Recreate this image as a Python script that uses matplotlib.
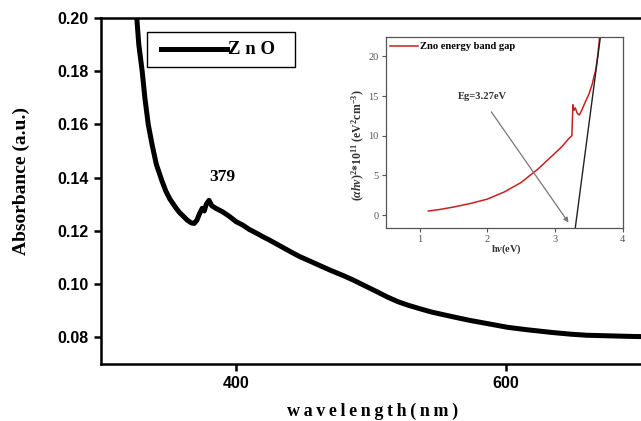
"""
plot.py
UV-Vis absorbance of ZnO with a Tauc-plot inset (band gap).
"""
import matplotlib
matplotlib.use("Agg")
import matplotlib.pyplot as plt
from matplotlib.patches import Rectangle
from matplotlib.lines import Line2D

plt.rcParams["mathtext.fontset"] = "custom"
plt.rcParams["mathtext.rm"] = "Liberation Serif:bold"
plt.rcParams["mathtext.it"] = "Liberation Serif:italic:bold"
plt.rcParams["mathtext.bf"] = "Liberation Serif:bold"

SERIF = "Liberation Serif"
SANS = "Liberation Sans"
TS = "\u2009"   # thin space, used as letter spacing

# -- Main spectrum ------------------------------------------------------------
wavelength = [324, 326.5, 328, 330.5, 332.5, 335, 338, 341, 345, 348, 351, 355,
              358, 361, 364, 367, 369, 371, 373, 375, 376.5, 378, 380, 382,
              385, 390, 395, 400, 405, 410, 415, 420, 425, 430, 435, 440, 447,
              455, 462, 470, 480, 487, 495, 505, 512, 520, 528, 536, 545, 553,
              561, 573, 586, 601, 615, 635, 648, 660, 675, 690, 700]
absorbance = [0.215, 0.200, 0.190, 0.180, 0.170, 0.160, 0.152, 0.145, 0.139,
              0.135, 0.132, 0.129, 0.127, 0.1255, 0.124, 0.123, 0.1228, 0.124,
              0.1265, 0.1285, 0.1275, 0.130, 0.1315, 0.1295, 0.1285, 0.1272,
              0.1255, 0.1235, 0.1222, 0.1205, 0.1192, 0.1178, 0.1165, 0.1151,
              0.1137, 0.1123, 0.1104, 0.1086, 0.1070, 0.1052, 0.1031, 0.1015,
              0.0995, 0.0970, 0.0952, 0.0934, 0.0920, 0.0908, 0.0895, 0.0886,
              0.0877, 0.0864, 0.0852, 0.0838, 0.0829, 0.0818, 0.0812, 0.0808,
              0.0806, 0.0804, 0.0803]
peak_nm, peak_label_y = 389.6, 0.1404

# -- Inset: Tauc plot ----------------------------------------------------------
hv = [1.13, 1.3, 1.5, 1.75, 2.0, 2.25, 2.5, 2.75, 3.0, 3.1, 3.2, 3.25, 3.255,
      3.265, 3.28, 3.30, 3.33, 3.36, 3.40, 3.45, 3.50, 3.55, 3.58, 3.60, 3.63,
      3.66]
tauc = [0.5, 0.7, 1.0, 1.45, 2.0, 2.9, 4.1, 5.8, 7.8, 8.6, 9.6, 10.0, 11.5,
        13.9, 13.2, 13.5, 12.8, 12.6, 13.3, 14.3, 15.2, 16.5, 17.6, 18.2, 20.0,
        22.5]
fit_x = [3.30, 3.67]
fit_y = [-1.6, 22.4]
arrow_tail = (2.06, 13.0)
arrow_head = (3.20, -0.95)

W, H = 641, 421
fig = plt.figure(figsize=(W / 100, H / 100), dpi=100, facecolor="white")

# -- Main axes -----------------------------------------------------------------
ax = fig.add_axes([101 / W, 57 / H, 540 / W, 346 / H])
ax.plot(wavelength, absorbance, color="black", linewidth=3.6,
        solid_joinstyle="round")
ax.set_xlim(300, 700)
ax.set_ylim(0.07, 0.20)
ax.set_xticks([400, 600])
ax.set_yticks([0.08, 0.10, 0.12, 0.14, 0.16, 0.18, 0.20])
ax.set_yticklabels([f"{v:.2f}" for v in ax.get_yticks()])
for spine in ax.spines.values():
    spine.set_linewidth(1.8)
ax.spines["right"].set_visible(False)
ax.tick_params(direction="out", length=5, width=1.8, pad=4)
for lab in ax.get_xticklabels() + ax.get_yticklabels():
    lab.set_fontfamily(SANS)
    lab.set_fontweight("bold")
    lab.set_fontsize(11.5)

ax.set_ylabel("Absorbance (a.u.)", fontfamily=SERIF, fontweight="bold",
              fontsize=14)
ax.yaxis.set_label_coords(-0.131, 0.529)
ax.set_xlabel(TS.join("wavelength") + TS + TS.join("(nm)"), fontfamily=SERIF,
              fontweight="bold", fontsize=13)
ax.xaxis.set_label_coords(0.502, -0.112)

ax.text(peak_nm, peak_label_y, "379", ha="center", va="center",
        fontfamily=SERIF, fontweight="bold", fontsize=12.5)

# -- Legend box (drawn by hand to match the spacing) --------------------------
fig.patches.append(Rectangle((146.7 / W, 1 - 66.7 / H), 148.3 / W, 34.4 / H,
                             transform=fig.transFigure, facecolor="white",
                             edgecolor="black", linewidth=1.0, zorder=5))
fig.lines.append(Line2D([160.7 / W, 226.7 / W], [1 - 49.3 / H, 1 - 49.3 / H],
                        transform=fig.transFigure, color="black",
                        linewidth=3.6, zorder=6))
fig.text(227.5 / W, 1 - 49.3 / H, "Z n O", ha="left", va="center",
         fontfamily=SERIF, fontweight="bold", fontsize=13.5, zorder=6)

# -- Inset ---------------------------------------------------------------------
ax2 = fig.add_axes([385.7 / W, (H - 227.7) / H, 237 / W, 190.4 / H])
ax2.plot(hv, tauc, color="#c8201e", linewidth=1.1, label="Zno energy band gap")
ax2.plot(fit_x, fit_y, color="#222222", linewidth=1.0)
ax2.annotate("", xy=arrow_head, xytext=arrow_tail,
             arrowprops=dict(arrowstyle="-|>", color="#777777", lw=0.9,
                             mutation_scale=7, shrinkA=0, shrinkB=0))
ax2.text(1.57, 14.9, "Eg=3.27eV", ha="left", va="center", fontfamily=SERIF,
         fontweight="bold", fontsize=7.6, color="#333333")
ax2.set_xlim(0.5, 4)
ax2.set_ylim(-1.6, 22.4)
ax2.set_xticks([1, 2, 3, 4])
ax2.set_yticks([0, 5, 10, 15, 20])
for spine in ax2.spines.values():
    spine.set_linewidth(0.9)
    spine.set_color("#555555")
ax2.tick_params(direction="out", length=3, width=0.8, colors="#555555",
                labelsize=7.5, pad=2)
for lab in ax2.get_xticklabels() + ax2.get_yticklabels():
    lab.set_fontfamily(SERIF)
ax2.text(2.28, -4.3, r"h$\nu$(eV)", ha="center", va="center", fontfamily=SERIF,
         fontweight="bold", fontsize=7.5, color="#333333", clip_on=False)
ax2.set_ylabel(r"$(\alpha h\nu)^2$*10$^{11}$ (eV$^2$cm$^{-3}$)",
               fontfamily=SERIF, fontweight="bold", fontsize=8.5,
               color="#333333")
ax2.yaxis.set_label_coords(-0.078, 0.434)
ax2.legend(loc="upper left", frameon=False, handlelength=2.6,
           handletextpad=0.2, borderaxespad=0.15, borderpad=0.3,
           prop={"family": SERIF, "weight": "bold", "size": 7.6})

fig.savefig("out.png", dpi=100, facecolor="white")
